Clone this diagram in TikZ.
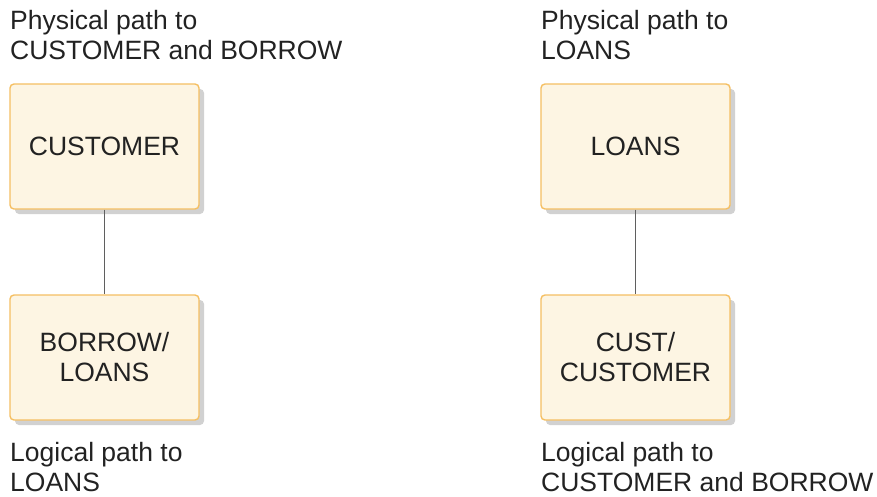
\documentclass[tikz,border=0pt]{standalone}
\usepackage{fontspec}
\setmainfont{Liberation Sans}
\usepackage{tikz}
\usetikzlibrary{shadows}
\definecolor{boxfill}{HTML}{FDF5E3}
\definecolor{boxline}{HTML}{F5BF62}
\definecolor{linkc}{HTML}{5F5F5F}
\definecolor{txtc}{HTML}{222222}
\tikzset{
  seg/.style={draw=boxline,line width=1.4pt,rounded corners=4pt,fill=boxfill,align=center,
    minimum width=189pt,minimum height=125pt,inner sep=0pt,text=txtc,
    font=\fontsize{26.5}{30}\selectfont,
    drop shadow={shadow xshift=5pt,shadow yshift=-5pt,fill=black!18,opacity=1}},
  lbl/.style={anchor=north west,align=left,inner sep=0pt,text=txtc,font=\fontsize{26.5}{30}\selectfont},
  lnk/.style={draw=linkc,line width=1.2pt}
}
\begin{document}
\begin{tikzpicture}[x=1pt,y=-1pt]
\useasboundingbox (0,0) rectangle (877,497);
% left path
\node[lbl] (physl) at (10,10.5) {Physical path to\\CUSTOMER and BORROW};
\node[seg] (cust) at (104.5,146.5) {CUSTOMER};
\node[seg] (borrow) at (104.5,357.5) {BORROW/\\LOANS};
\node[lbl] (logl) at (10,442.5) {Logical path to\\LOANS};
\draw[lnk] (cust) -- (borrow);
% right path
\node[lbl] (physr) at (541,10.5) {Physical path to\\LOANS};
\node[seg] (loans) at (635.5,146.5) {LOANS};
\node[seg] (custr) at (635.5,357.5) {CUST/\\CUSTOMER};
\node[lbl] (logr) at (541,442.5) {Logical path to\\CUSTOMER and BORROW};
\draw[lnk] (loans) -- (custr);
\end{tikzpicture}
\end{document}
